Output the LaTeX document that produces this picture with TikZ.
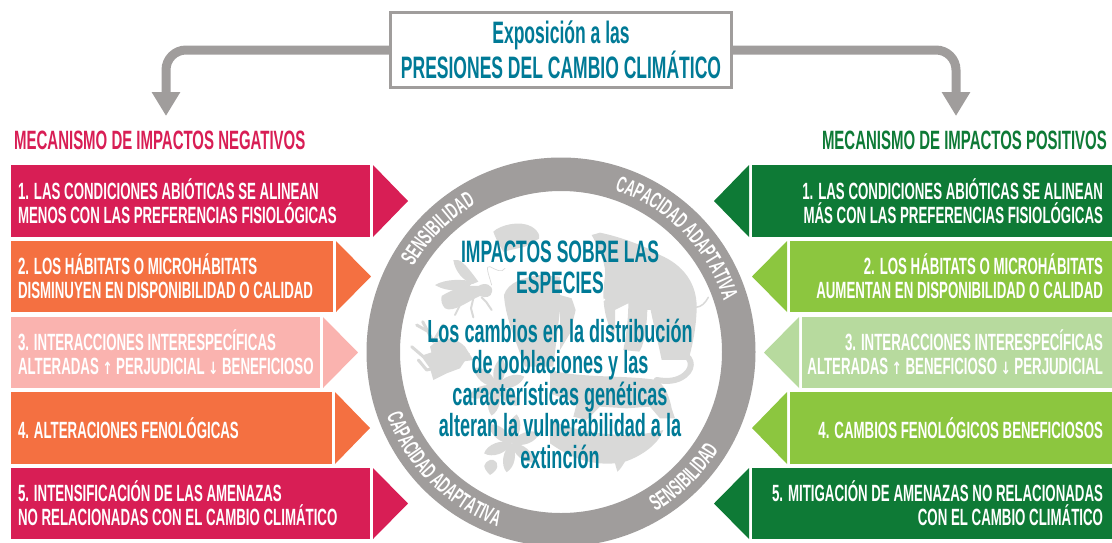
\documentclass[tikz,border=0pt]{standalone}
\usepackage{fontspec}
\usetikzlibrary{arrows.meta,decorations.text}
\setmainfont[FakeStretch=0.565]{Liberation Sans}
\newfontfamily\arrowfont[FakeStretch=0.7]{DejaVu Sans}
\definecolor{crimson}{HTML}{D81E55}
\definecolor{coral}{HTML}{F47041}
\definecolor{blush}{HTML}{FAB3AF}
\definecolor{forest}{HTML}{0E7A36}
\definecolor{leafgreen}{HTML}{8CC63F}
\definecolor{palegreen}{HTML}{B7DA9E}
\definecolor{ringgray}{HTML}{A09D9C}
\definecolor{teal}{HTML}{007A96}
\definecolor{shade}{HTML}{D9D9D8}
\newcommand{\boxfont}{\fontsize{23.5}{24}\selectfont\bfseries}
\newcommand{\ringfont}{\fontsize{22.5}{22.5}\selectfont}
\newcommand{\upmark}{{\arrowfont\fontsize{17}{24}\selectfont ↑}}
\newcommand{\downmark}{{\arrowfont\fontsize{17}{24}\selectfont ↓}}
\tikzset{
  mech/.style={anchor=north west,minimum height=72pt,inner xsep=7pt,inner ysep=0pt,
    text=white,font=\boxfont,outer sep=0pt},
  mechl/.style={mech,align=flush left},
  mechr/.style={mech,align=flush right},
  flow/.style={draw=ringgray,line width=9pt,rounded corners=20pt,
    -{Triangle[length=24pt,width=27pt]}},
  sil/.style={fill=shade,draw=none},
  silline/.style={draw=shade,line width=3pt,line cap=round,line join=round,fill=none},
  ringtext/.style={decorate,decoration={text along path,text align=center,
    text={|\ringfont\bfseries\color{white}|#1}}}
}
\newcommand{\tipright}[2]{\fill[#1] ([xshift=3pt]#2.north east) -- ([xshift=38pt]#2.east) -- ([xshift=3pt]#2.south east) -- cycle;}
\newcommand{\tipleft}[2]{\fill[#1] ([xshift=-3pt]#2.north west) -- ([xshift=-38pt]#2.west) -- ([xshift=-3pt]#2.south west) -- cycle;}
\begin{document}
\begin{tikzpicture}[x=1pt,y=-1pt]
\useasboundingbox (0,0) rectangle (1112,542);
\clip (0,0) rectangle (1112,542);

% exposure box and the two flows leaving it
\node[draw=ringgray,line width=3pt,fill=white,minimum width=341pt,minimum height=75pt,
  inner sep=0pt,text=teal,align=center,font=\fontsize{31}{33}\selectfont\bfseries] (expo) at (561,50)
  {Exposición a las\\PRESIONES DEL CAMBIO CLIMÁTICO};
\coordinate (tipneg) at (166,116);
\coordinate (tippos) at (956,116);
\draw[flow] (expo.west) -| (tipneg);
\draw[flow] (expo.east) -| (tippos);

% column headings
\node[anchor=base west,inner sep=0pt,text=crimson,font=\fontsize{26.5}{26.5}\selectfont\bfseries] (headneg) at (14,149) {MECANISMO DE IMPACTOS NEGATIVOS};
\node[anchor=base east,inner sep=0pt,text=forest,font=\fontsize{26.5}{26.5}\selectfont\bfseries] (headpos) at (1107,149) {MECANISMO DE IMPACTOS POSITIVOS};

% negative mechanisms
\node[mechl,fill=crimson,minimum width=359pt,text width=345pt] (n1) at (11,165) {1. LAS CONDICIONES ABIÓTICAS SE ALINEAN\\MENOS CON LAS PREFERENCIAS FISIOLÓGICAS};
\node[mechl,fill=coral,minimum width=322pt,text width=308pt,minimum height=71pt] (n2) at (11,241) {2. LOS HÁBITATS O MICROHÁBITATS\\DISMINUYEN EN DISPONIBILIDAD O CALIDAD};
\node[mechl,fill=blush,minimum width=309pt,text width=295pt,minimum height=71pt] (n3) at (11,317) {3. INTERACCIONES INTERESPECÍFICAS\\\makebox[295pt][l]{ALTERADAS \upmark{} PERJUDICIAL \downmark{} BENEFICIOSO}};
\node[mechl,fill=coral,minimum width=321pt,text width=307pt] (n4) at (11,392) {4. ALTERACIONES FENOLÓGICAS};
\node[mechl,fill=crimson,minimum width=359pt,text width=345pt,minimum height=71pt] (n5) at (11,468) {5. INTENSIFICACIÓN DE LAS AMENAZAS\\NO RELACIONADAS CON EL CAMBIO CLIMÁTICO};
\tipright{crimson}{n1}
\tipright{coral}{n2}
\tipright{blush}{n3}
\tipright{coral}{n4}
\tipright{crimson}{n5}

% positive mechanisms
\node[mechr,fill=forest,minimum width=360pt,text width=342pt,inner xsep=9pt] (p1) at (752,165) {1. LAS CONDICIONES ABIÓTICAS SE ALINEAN\\MÁS CON LAS PREFERENCIAS FISIOLÓGICAS};
\node[mechr,fill=leafgreen,minimum width=322pt,text width=304pt,inner xsep=9pt,minimum height=71pt] (p2) at (790,241) {2. LOS HÁBITATS O MICROHÁBITATS\\AUMENTAN EN DISPONIBILIDAD O CALIDAD};
\node[mechr,fill=palegreen,minimum width=310pt,text width=292pt,inner xsep=9pt,minimum height=71pt] (p3) at (802,317) {3. INTERACCIONES INTERESPECÍFICAS\\\makebox[292pt][r]{ALTERADAS \upmark{} BENEFICIOSO \downmark{} PERJUDICIAL}};
\node[mechr,fill=leafgreen,minimum width=322pt,text width=304pt,inner xsep=9pt] (p4) at (790,392) {4. CAMBIOS FENOLÓGICOS BENEFICIOSOS};
\node[mechr,fill=forest,minimum width=360pt,text width=342pt,inner xsep=9pt,minimum height=71pt] (p5) at (752,468) {5. MITIGACIÓN DE AMENAZAS NO RELACIONADAS\\CON EL CAMBIO CLIMÁTICO};
\tipleft{forest}{p1}
\tipleft{leafgreen}{p2}
\tipleft{palegreen}{p3}
\tipleft{leafgreen}{p4}
\tipleft{forest}{p5}

% grey ring
\coordinate (hub) at (561,352);
\draw[ringgray,line width=33.5pt] (hub) circle[radius=177.75pt];
\path[ringtext={SENSIBILIDAD}] ([shift={(150:170.5pt)}]hub) arc[start angle=150,end angle=120,radius=170.5pt];
\path[ringtext={CAPACIDAD ADAPTATIVA}] ([shift={(72:170.5pt)}]hub) arc[start angle=72,end angle=17,radius=170.5pt];
\path[ringtext={CAPACIDAD ADAPTATIVA}] ([shift={(198:185.5pt)}]hub) arc[start angle=198,end angle=252,radius=185.5pt];
\path[ringtext={SENSIBILIDAD}] ([shift={(-61:185.5pt)}]hub) arc[start angle=-61,end angle=-30,radius=185.5pt];

% pale wildlife silhouettes behind the central text
\begin{scope}[shift={(410,210)},x=0.3333pt,y=-0.3333pt]
  % bee
  \fill[sil] (130,150) .. controls (150,145) and (165,160) .. (205,215) -- (188,222) .. controls (160,212) and (135,185) .. cycle;
  \fill[sil] (75,225) .. controls (110,205) and (160,208) .. (192,215) -- (170,237) .. controls (130,245) and (100,240) .. cycle;
  \fill[sil] (95,258) .. controls (130,235) and (170,225) .. (205,228) .. controls (225,215) and (250,225) .. (246,245) .. controls (245,262) and (225,265) .. (210,258) .. controls (180,270) and (130,310) .. (105,295) .. controls (95,285) and (92,270) .. cycle;
  \draw[silline,line width=2pt] (215,262) -- (228,275) -- (245,300);
  \draw[silline,line width=2pt] (190,265) -- (183,295) -- (190,322);
  \draw[silline,line width=2pt] (150,285) -- (135,315);
  \draw[silline,line width=0.7pt] (245,225) .. controls (235,190) and (225,165) .. (240,170) .. controls (260,180) and (275,190) .. (285,175);
  % crested head and central body
  \fill[sil] (250,65) .. controls (270,45) and (330,30) .. (365,50) .. controls (390,65) and (395,90) .. (380,90) -- (345,110) -- (280,125) .. controls (262,95) and (255,80) .. cycle;
  \fill[sil] (282,255) .. controls (295,215) and (340,205) .. (385,195) -- (450,200) -- (450,300) -- (430,470) -- (345,470) .. controls (320,400) and (285,320) .. cycle;
  % frog
  \fill[sil] (60,410) .. controls (90,380) and (130,375) .. (165,410) -- (190,450) -- (120,460) -- (70,450) -- cycle;
  \draw[silline] (38,335) -- (70,395) -- (100,345);
  \draw[silline] (50,362) -- (20,345);
  \draw[silline] (5,410) -- (40,440) -- (70,430);
  \draw[silline] (25,450) -- (50,480) -- (95,470);
\end{scope}
\begin{scope}[shift={(410,350)},x=0.3333pt,y=-0.3333pt]
  % frog hind legs
  \fill[sil] (35,20) -- (90,0) -- (180,10) -- (150,55) -- (110,70) -- (70,90) -- (60,55) -- cycle;
  % star-shaped leaves
  \foreach \cx/\cy in {260/110,305/280} {
    \foreach \a in {20,80,140,200,260,320} {
      \fill[sil,shift={(\cx,\cy)},rotate=\a] (0,0) .. controls (25,-24) and (70,-22) .. (88,0) .. controls (70,22) and (25,24) .. cycle;
    }
  }
  \fill[sil] (240,330) .. controls (220,340) and (215,350) .. (240,375) .. controls (265,360) and (270,340) .. (250,330) -- cycle;
\end{scope}
\begin{scope}[shift={(560,210)},x=0.3333pt,y=-0.3333pt]
  % elephant
  \fill[sil] (95,75) -- (120,68) .. controls (180,80) and (260,110) .. (300,135) .. controls (370,165) and (410,220) .. (410,290) .. controls (410,340) and (400,400) .. (385,450) -- (305,450) .. controls (295,400) and (282,350) .. (272,300) -- (262,300) .. controls (260,360) and (250,410) .. (238,425) -- (190,420) .. controls (200,370) and (205,320) .. (205,280) -- (165,300) .. controls (165,340) and (168,360) .. (160,375) .. controls (130,320) and (125,260) .. (135,200) .. controls (140,170) and (120,120) .. cycle;
  \draw[silline,line width=1.5pt] (408,292) .. controls (425,290) and (435,280) .. (445,262);
  \draw[white,line width=1.5pt] (135,268) .. controls (125,275) and (110,280) .. (98,282);
  % central body upper part
  \fill[sil] (0,255) -- (35,265) -- (47,300) -- (30,370) -- (0,420) -- cycle;
\end{scope}
\begin{scope}[shift={(560,350)},x=0.3333pt,y=-0.3333pt]
  % monkey with curled tail
  \draw[silline,line width=6pt] (355,8) .. controls (395,15) and (405,50) .. (375,75) .. controls (350,95) and (320,95) .. (290,90);
  \fill[sil] (-30,60) .. controls (60,85) and (200,75) .. (290,90) .. controls (320,110) and (330,150) .. (335,175) -- (345,205) -- (300,205) -- (270,170) -- (200,175) -- (120,170) -- (80,210) -- (40,200) -- (50,160) -- (-30,130) -- cycle;
  % fish
  \fill[sil] (-30,210) .. controls (60,250) and (200,270) .. (310,240) .. controls (295,285) and (240,320) .. (195,335) .. controls (188,345) and (182,358) .. (172,365) -- (165,340) .. controls (100,345) and (40,330) .. (-30,280) -- cycle;
\end{scope}

% central statement
\node[anchor=base,inner sep=0pt,align=center,text=teal,font=\fontsize{31}{31}\selectfont\bfseries] (impacts) at (560,293) {IMPACTOS SOBRE LAS\\ESPECIES};
\node[anchor=base,inner sep=0pt,align=center,text=teal,font=\fontsize{32}{31.5}\selectfont\bfseries] (changes) at (560,468) {Los cambios en la distribución\\de poblaciones y las\\características genéticas\\alteran la vulnerabilidad a la\\extinción};
\end{tikzpicture}
\end{document}
